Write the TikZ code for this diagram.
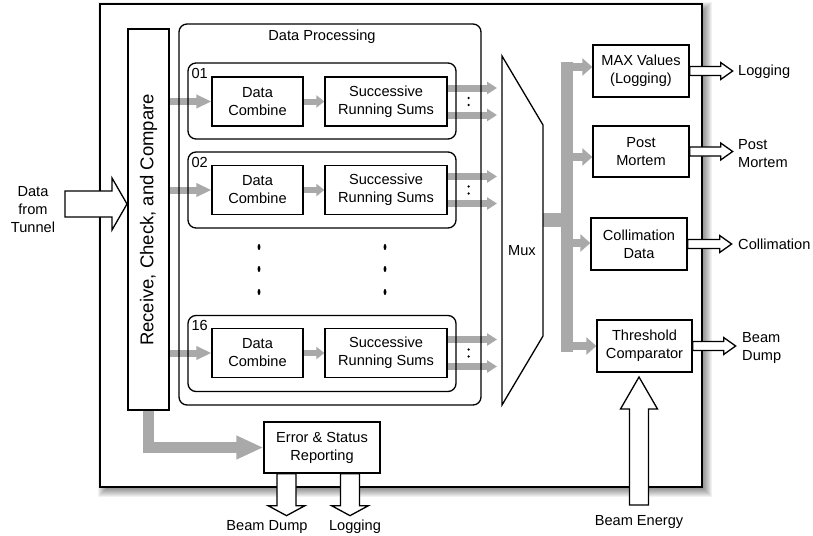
\documentclass[tikz,border=0pt]{standalone}
\usepackage{fontspec}
\setmainfont{Liberation Sans}
\usetikzlibrary{arrows.meta,calc}
\definecolor{garr}{HTML}{A9A9A9}
\newcommand\fs{\fontsize{14.6}{18}\selectfont}
\newcommand\fsbig{\fontsize{18.5}{22}\selectfont}
% right-pointing block arrow: start, total length, body half, head half, head length
\newcommand\rarrow[5]{\draw[warrow] #1 ++(0,{-(#3)}) -- ++({#2-(#5)},0) -- ++(0,{#3-#4}) -- ++(#5,#4) -- ++({-(#5)},#4) -- ++(0,{#3-#4}) -- ++({#5-(#2)},0) -- cycle;}
% down-pointing block arrow (negative length/head = up)
\newcommand\darrow[5]{\draw[warrow] #1 ++({-(#3)},0) -- ++(0,{#2-(#5)}) -- ++({#3-#4},0) -- ++(#4,#5) -- ++(#4,{-(#5)}) -- ++({#3-#4},0) -- ++(0,{#5-(#2)}) -- cycle;}
\pgfdeclarelayer{back}
\pgfdeclarelayer{mid}
\pgfsetlayers{back,mid,main}
\begin{document}
\begin{tikzpicture}[x=1pt,y=-1pt,
  box/.style={draw,line width=1.3pt,fill=white,inner sep=0pt,align=center,font=\fs},
  rbox/.style={draw,line width=1.3pt,rounded corners=8pt,inner sep=0pt},
  lab/.style={inner sep=0pt,align=center,font=\fs},
  warrow/.style={draw,fill=white,line width=1.3pt,line join=miter},
  gin/.style={draw=garr,line width=7pt,-{Triangle[length=15pt,width=13pt]}},
  gsmall/.style={draw=garr,line width=6pt,-{Triangle[length=8pt,width=12pt]}},
  gmux/.style={draw=garr,line width=7pt,-{Triangle[length=10pt,width=12pt]},shorten >=5pt},
  gbranch/.style={draw=garr,line width=8pt,-{Triangle[length=10pt,width=17pt]}},
  gerr/.style={draw=garr,line width=11pt,-{Triangle[length=27pt,width=22pt]}},
  gbus/.style={draw=garr,line cap=butt}]
\useasboundingbox (0,0) rectangle (813,535);

\begin{pgfonlayer}{back}
  \foreach \k in {0,...,11} \fill[black,opacity=0.055] ({98+\k},{2+\k}) rectangle ({712-\k},{497-\k});
  \node[draw,line width=2pt,fill=white,minimum width=602pt,minimum height=483pt,inner sep=0pt] (outer) at (401,245.5) {};
\end{pgfonlayer}

% receive box
\node[box,minimum width=41pt,minimum height=381pt] (rcv) at (148.5,219.5) {};
\node[font=\fsbig,rotate=90,inner sep=0pt] (rcvtext) at (148.5,220) {Receive, Check, and Compare};

% data processing
\node[rbox,minimum width=302pt,minimum height=381pt] (dp) at (330,214.5) {};
\node[lab] (dptitle) at (322,37) {Data Processing};

\coordinate (muxW) at (502,0);
\foreach \n/\cy/\by/\t in {1/101/101.5/01, 2/190/190/02, 16/353.5/353/16} {
  \node[rbox,minimum width=268pt,minimum height=76pt] (ch\n) at (322,\cy) {};
  \node[lab,anchor=north west] (chl\n) at ($(ch\n.north west)+(4,5.5)$) {\t};
  \node[box,minimum width=91pt,minimum height=49pt] (dc\n) at (257.5,\by) {Data\\Combine};
  \node[box,minimum width=122pt,minimum height=49pt] (srs\n) at (386,\by) {Successive\\Running Sums};
  \coordinate (ua\n) at ([yshift=13.5pt]srs\n.east);
  \coordinate (la\n) at ([yshift=-13.5pt]srs\n.east);
  \fill ($(srs\n.east)+(21,-3.5)$) circle (1.3);
  \fill ($(srs\n.east)+(21,3.5)$) circle (1.3);
  \begin{pgfonlayer}{mid}
    \draw[gin] (dc\n.west -| rcv.east) -- (dc\n.west);
    \draw[gsmall] (dc\n.east) -- (srs\n.west);
    \draw[gmux] (ua\n) -- (ua\n -| muxW);
    \draw[gmux] (la\n) -- (la\n -| muxW);
  \end{pgfonlayer}
}
\foreach \y in {247,269,292} {
  \fill (259,\y) ellipse (1.4 and 3.2);
  \fill (385,\y) ellipse (1.4 and 3.2);
}

% mux
\draw[line width=1.3pt,fill=white] (502,56) -- (543,125) -- (543,336) -- (502,405) -- cycle;
\node[lab] (muxl) at (522,251) {Mux};
\coordinate (muxE) at (543,220);
\coordinate (busT) at (567,62);
\coordinate (busB) at (567,352);

% right boxes
\node[box,minimum width=96pt,minimum height=52pt] (max) at (641,71) {MAX Values\\(Logging)};
\node[box,minimum width=96pt,minimum height=51pt] (pm) at (641,151.5) {Post\\Mortem};
\node[box,minimum width=96pt,minimum height=52pt] (coll) at (639,244) {Collimation\\Data};
\node[box,minimum width=95pt,minimum height=52pt] (thr) at (644.5,346) {Threshold\\Comparator};
\node[box,minimum width=116pt,minimum height=51pt] (err) at (322,447.5) {Error \& Status\\Reporting};

\begin{pgfonlayer}{mid}
  \draw[gbus,line width=14pt] (muxE) -- (muxE -| busT);
  \draw[gbus,line width=12pt] (busT) -- (busB);
  \draw[gbranch] ([yshift=4pt]max.west -| busT) -- ([yshift=4pt]max.west);
  \draw[gbranch] ([yshift=-5.5pt]pm.west -| busT) -- ([yshift=-5.5pt]pm.west);
  \draw[gbranch] ([yshift=1pt]coll.west -| busT) -- ([yshift=1pt]coll.west);
  \draw[gbranch] (thr.west -| busT) -- (thr.west);
  \draw[gerr] (rcv.south) |- (err.west);
\end{pgfonlayer}

% white block arrows
\rarrow{(max.east)}{43}{4.5}{8.5}{12}
\rarrow{(pm.east)}{43}{4.5}{8.5}{12}
\rarrow{(coll.east)}{44}{4.5}{8.5}{12}
\rarrow{(thr.east)}{43}{4.5}{8.5}{12}
\darrow{([xshift=-35.5pt]err.south)}{42}{9.5}{18.5}{10}
\darrow{([xshift=28pt]err.south)}{42}{9.5}{18.5}{10}
\coordinate (tun) at (65,204);
\rarrow{(tun)}{62}{13}{26}{15}
\coordinate (be) at (639,505);
\darrow{(be)}{-128}{9.5}{18.5}{-32}

% outside labels
\node[lab] (tunl) at (33,210) {Data\\from\\Tunnel};
\node[lab,anchor=west] (logl) at (738,72) {Logging};
\node[lab,anchor=west,align=left] (pml) at (738,153.5) {Post\\Mortem};
\node[lab,anchor=west] (colll) at (738,244) {Collimation};
\node[lab,anchor=west,align=left] (bdl) at (742,347.5) {Beam\\Dump};
\node[lab] (bel) at (639,522) {Beam Energy};
\node[lab] (bdl2) at (267,527) {Beam Dump};
\node[lab] (logl2) at (355,527) {Logging};
\end{tikzpicture}
\end{document}
